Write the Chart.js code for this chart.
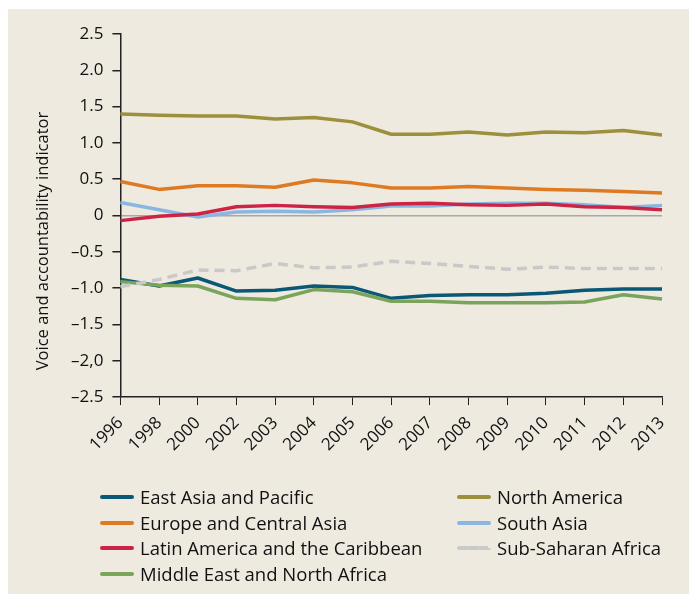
<!DOCTYPE html>
<html lang="en">
<head>
<meta charset="UTF-8" />
<title>Voice and accountability indicator</title>
<script src="https://cdn.jsdelivr.net/npm/chart.js@4.4.1/dist/chart.umd.min.js"></script>
<style>
  html, body { margin: 0; padding: 0; background: #fff; }
  #painel {
    position: absolute; left: 8px; top: 9px; right: 0; bottom: 0;
    background: #eeeae0;
  }
  #wrap { position: absolute; left: 0; top: 0; width: 689px; height: 594px; }
  #legenda {
    position: absolute; left: 100px; top: 484px; width: 580px;
    font-family: "Open Sans", sans-serif; font-size: 18.5px; color: #111;
  }
  .item { position: absolute; height: 26px; line-height: 26px; white-space: nowrap; }
  .item span.amostra { position: absolute; left: 0; top: 11px; width: 34px; height: 0; border-top: 4px solid; border-radius: 2px; }
  .item span.txt { position: absolute; left: 40px; top: 0; }
</style>
</head>
<body>
<div id="painel"></div>
<div id="wrap"><canvas id="grafico" width="689" height="594"></canvas></div>
<div id="legenda"></div>

<script>
// anos do eixo x
const anos = ["1996", "1998", "2000", "2002", "2003", "2004", "2005", "2006",
  "2007", "2008", "2009", "2010", "2011", "2012", "2013"];

// rótulos do eixo y, de -2.5 a 2.5
const rotulosY = ["–2.5", "–2,0", "–1.5", "–1.0", "–0.5", "0", "0.5", "1.0", "1.5", "2.0", "2.5"];

const eastAsia =    [-0.88, -0.97, -0.86, -1.04, -1.03, -0.97, -0.99, -1.14, -1.10, -1.09, -1.09, -1.07, -1.03, -1.01, -1.01];
const europe =      [0.47, 0.36, 0.41, 0.41, 0.39, 0.49, 0.45, 0.38, 0.38, 0.40, 0.38, 0.36, 0.35, 0.33, 0.31];
const latinAm =     [-0.07, -0.01, 0.02, 0.12, 0.14, 0.12, 0.11, 0.16, 0.17, 0.15, 0.14, 0.16, 0.12, 0.11, 0.08];
const mena =        [-0.91, -0.96, -0.97, -1.14, -1.16, -1.02, -1.05, -1.18, -1.18, -1.20, -1.20, -1.20, -1.19, -1.09, -1.15];
const northAm =     [1.40, 1.38, 1.37, 1.37, 1.33, 1.35, 1.29, 1.12, 1.12, 1.15, 1.11, 1.15, 1.14, 1.17, 1.11];
const southAsia =   [0.18, 0.08, -0.02, 0.05, 0.06, 0.05, 0.08, 0.13, 0.13, 0.16, 0.17, 0.17, 0.15, 0.11, 0.14];
const subSaharan =  [-0.98, -0.88, -0.75, -0.76, -0.66, -0.72, -0.71, -0.63, -0.66, -0.70, -0.74, -0.71, -0.73, -0.73, -0.73];

const fonte = '"Open Sans", sans-serif';

function serie(nome, dados, cor, tracejado) {
  return {
    label: nome,
    data: dados,
    borderColor: cor,
    backgroundColor: cor,
    borderWidth: 3.5,
    borderDash: tracejado ? [10, 6] : [],
    pointRadius: 0,
    tension: 0,
    borderCapStyle: 'butt',
    borderJoinStyle: 'round'
  };
}

// ordem de desenho: a cinza tracejada fica por baixo
const datasets = [
  serie("Sub-Saharan Africa", subSaharan, "#c9c9c9", true),
  serie("Middle East and North Africa", mena, "#7aa35c"),
  serie("East Asia and Pacific", eastAsia, "#0b5876"),
  serie("North America", northAm, "#9c903c"),
  serie("Europe and Central Asia", europe, "#de7b22"),
  serie("Latin America and the Caribbean", latinAm, "#cc2447"),
  serie("South Asia", southAsia, "#8ab6e2")
];

// título do eixo y desenhado à mão (fica um pouco abaixo do centro)
const tituloY = {
  id: 'tituloY',
  afterDraw(chart) {
    const ctx = chart.ctx;
    ctx.save();
    ctx.translate(43, 241);
    ctx.rotate(-Math.PI / 2);
    ctx.font = '16.5px ' + fonte;
    ctx.fillStyle = '#111';
    ctx.textAlign = 'center';
    ctx.textBaseline = 'middle';
    ctx.fillText("Voice and accountability indicator", 0, 0);
    ctx.restore();
  }
};

const grafico = new Chart(document.getElementById('grafico'), {
  type: 'line',
  data: { labels: anos, datasets: datasets },
  plugins: [tituloY],
  options: {
    responsive: false,
    animation: false,
    layout: { padding: { left: 62, right: 27, top: 34, bottom: 131 } },
    plugins: { legend: { display: false }, tooltip: { enabled: false } },
    scales: {
      x: {
        offset: false,
        grid: { color: 'transparent', tickColor: '#222', tickLength: 8, drawOnChartArea: false },
        border: { color: '#222', width: 1.5 },
        ticks: {
          color: '#111', font: { family: fonte, size: 17 },
          maxRotation: 45, minRotation: 45, autoSkip: false, padding: 8
        }
      },
      y: {
        min: -2.5, max: 2.5,
        grid: {
          color: c => c.tick && c.tick.value === 0 ? '#a8a8a8' : 'transparent',
          lineWidth: 1.5,
          tickColor: '#222', tickLength: 8
        },
        border: { color: '#222', width: 1.5 },
        ticks: {
          stepSize: 0.5, padding: 9,
          color: '#111', font: { family: fonte, size: 17 },
          callback: (v) => rotulosY[Math.round((v + 2.5) / 0.5)]
        }
      }
    }
  }
});

// legenda em duas colunas
const colunas = [
  ["East Asia and Pacific", "Europe and Central Asia", "Latin America and the Caribbean", "Middle East and North Africa"],
  ["North America", "South Asia", "Sub-Saharan Africa"]
];
const leg = document.getElementById('legenda');
colunas.forEach((col, ci) => {
  col.forEach((nome, ri) => {
    const ds = grafico.data.datasets.find(d => d.label === nome);
    const div = document.createElement('div');
    div.className = 'item';
    div.style.left = (ci * 357) + 'px';
    div.style.top = (ri * 25.7) + 'px';
    const am = document.createElement('span');
    am.className = 'amostra';
    am.style.borderTopColor = ds.borderColor;
    if (ds.borderDash.length) am.style.borderTopStyle = 'dashed';
    const tx = document.createElement('span');
    tx.className = 'txt';
    tx.textContent = nome;
    div.appendChild(am);
    div.appendChild(tx);
    leg.appendChild(div);
  });
});
</script>
</body>
</html>
